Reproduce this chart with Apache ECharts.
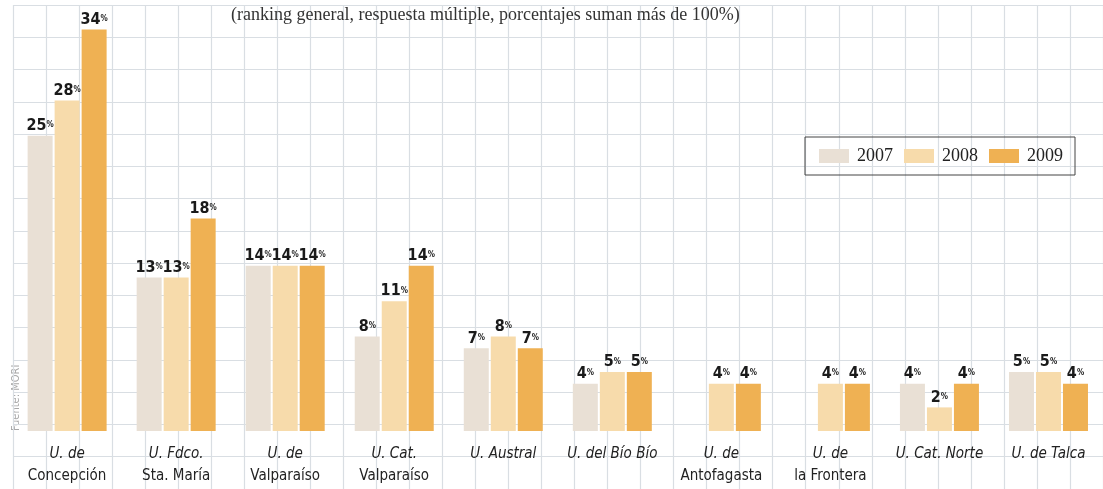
<!DOCTYPE html>
<html>
<head>
<meta charset="utf-8">
<script src="https://cdn.jsdelivr.net/npm/echarts@6/dist/echarts.min.js"></script>
<style>
  html, body { margin: 0; padding: 0; background: #fff; }
  #pic { width: 1103px; height: 489px; }
</style>
</head>
<body>
<div id="pic"></div>
<script>
var universidades = ['U. de\nConcepción', 'U. Fdco.\nSta. María', 'U. de\nValparaíso', 'U. Cat.\nValparaíso',
  'U. Austral', 'U. del Bío Bío', 'U. de\nAntofagasta', 'U. de\nla Frontera', 'U. Cat. Norte', 'U. de Talca'];
var anios = ['2007', '2008', '2009'];
var v2007 = [25, 13, 14, 8, 7, 4, null, null, 4, 5];
var v2008 = [28, 13, 14, 11, 8, 5, 4, 4, 2, 5];
var v2009 = [34, 18, 14, 14, 7, 5, 4, 4, 4, 4];
var colores = ['#e9e0d5', '#f7dbab', '#efb153'];

var narrow = '"Liberation Sans Narrow", "DejaVu Sans Condensed", sans-serif';
var serif = '"Liberation Serif", "DejaVu Serif", serif';

var etiqueta = {
  show: true,
  position: 'top',
  distance: 2,
  formatter: function(p) {
    if (p.value == null) return '';
    return '{n|' + p.value + '}{p|%}';
  },
  rich: {
    n: { fontFamily: narrow, fontWeight: 900, fontSize: 16, color: '#1a1a1a' },
    p: { fontFamily: narrow, fontWeight: 'bold', fontSize: 8, color: '#1a1a1a', padding: [0, 0, 1, 0] }
  }
};

function serie(nombre, datos) {
  return {
    name: nombre,
    type: 'bar',
    xAxisIndex: 0,
    yAxisIndex: 0,
    barWidth: 25,
    barGap: '8%',
    label: etiqueta,
    data: datos
  };
}

var myChart = echarts.init(document.getElementById('pic'));
var option = {
  animation: false,
  backgroundColor: '#fff',
  color: colores,
  title: {
    text: '(ranking general, respuesta múltiple, porcentajes suman más de 100%)',
    left: 231,
    top: 6,
    padding: 0,
    textStyle: { fontFamily: serif, fontWeight: 'normal', fontSize: 18, color: '#333' }
  },
  legend: {
    data: anios,
    left: 805,
    top: 137,
    padding: [10, 12, 10, 14],
    borderColor: '#444',
    borderWidth: 1,
    itemWidth: 30,
    itemHeight: 14,
    itemGap: 11,
    icon: 'rect',
    textStyle: { fontFamily: serif, fontSize: 18, color: '#222', padding: [0, 0, 0, 3] }
  },
  graphic: [{
    type: 'text',
    x: 16,
    y: 431,
    rotation: Math.PI / 2,
    style: {
      text: 'Fuente: MORI',
      fontFamily: narrow,
      fontSize: 11,
      fill: '#a8a8a8',
      align: 'left',
      verticalAlign: 'middle'
    }
  }],
  grid: [
    { left: 12.6, top: 6, width: 1108, height: 425 },
    { left: 13, top: 5, width: 1091, height: 498 }
  ],
  xAxis: [{
    type: 'category',
    gridIndex: 0,
    data: universidades,
    axisLine: { show: false },
    axisTick: { show: false },
    axisLabel: {
      interval: 0,
      margin: 12,
      formatter: function(v) {
        var partes = v.split('\n');
        var s = '{i|' + partes[0] + '}';
        if (partes[1]) s += '\n{r|' + partes[1] + '}';
        return s;
      },
      rich: {
        i: { fontFamily: narrow, fontStyle: 'italic', fontSize: 15, lineHeight: 22, color: '#222' },
        r: { fontFamily: narrow, fontSize: 15, lineHeight: 22, color: '#222' }
      }
    }
  }, {
    type: 'value',
    gridIndex: 1,
    min: 0,
    max: 33,
    interval: 1,
    axisLine: { show: false },
    axisTick: { show: false },
    axisLabel: { show: false },
    splitLine: { show: true, lineStyle: { color: '#d9dee3', width: 1.2 } }
  }],
  yAxis: [{
    type: 'value',
    gridIndex: 0,
    min: 0,
    max: 36,
    show: false,
    splitLine: { show: false }
  }, {
    type: 'value',
    gridIndex: 1,
    min: 0,
    max: 15,
    interval: 1,
    axisLine: { show: false },
    axisTick: { show: false },
    axisLabel: { show: false },
    splitLine: { show: true, lineStyle: { color: '#d9dee3', width: 1.2 } }
  }],
  series: [
    serie(anios[0], v2007),
    serie(anios[1], v2008),
    serie(anios[2], v2009)
  ]
};
myChart.setOption(option);
</script>
</body>
</html>
